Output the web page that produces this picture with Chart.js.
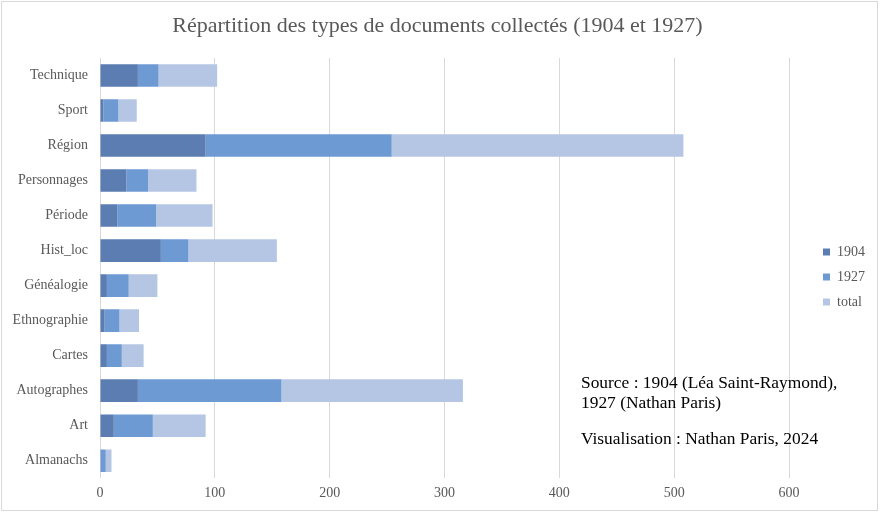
<!DOCTYPE html>
<html>
<head>
<meta charset="utf-8">
<script src="https://cdn.jsdelivr.net/npm/chart.js@4"></script>
<style>
  html, body { margin: 0; padding: 0; background: #fff; }
  #wrap { position: relative; width: 880px; height: 513px; }
  #frame { position: absolute; left: 1px; top: 1px; width: 877px; height: 510px; box-sizing: border-box; border: 1px solid #d9d9d9; pointer-events: none; }
  .note { position: absolute; left: 581px; font-family: "Liberation Serif", "Times New Roman", serif; font-size: 17.4px; line-height: 20px; color: #000; white-space: nowrap; }
</style>
</head>
<body>
<div id="wrap">
  <canvas id="c" width="880" height="513"></canvas>
  <div id="frame"></div>
  <div class="note" style="top:372px;">Source : 1904 (Léa Saint-Raymond),<br>1927 (Nathan Paris)</div>
  <div class="note" style="top:428px;">Visualisation : Nathan Paris, 2024</div>
</div>
<script>
const categories = ['Technique','Sport','Région','Personnages','Période','Hist_loc','Généalogie','Ethnographie','Cartes','Autographes','Art','Almanachs'];
const values1904 = [33, 3, 92, 23, 15, 53, 6, 4, 6, 33, 12, 0];
const values1927 = [18, 13, 162, 19, 34, 24, 19, 13, 13, 125, 34, 5];
const valuesTotal = [51, 16, 254, 42, 49, 77, 25, 17, 19, 158, 46, 5];
const seriesNames = ['1904', '1927', 'total'];
const xTicks = [0, 100, 200, 300, 400, 500, 600];

const serif = '"Liberation Serif", "Times New Roman", serif';
const colors = ['#5b7db2', '#6e9ad4', '#b4c6e4'];
const seriesValues = [values1904, values1927, valuesTotal];

new Chart(document.getElementById('c'), {
  type: 'bar',
  data: {
    labels: categories,
    datasets: seriesNames.map((n, i) => ({
      label: n,
      data: seriesValues[i],
      backgroundColor: colors[i],
      borderWidth: 0,
      barPercentage: 0.645,
      categoryPercentage: 1
    }))
  },
  options: {
    indexAxis: 'y',
    responsive: false,
    animation: false,
    devicePixelRatio: 1,
    layout: { padding: { left: 0, right: 5, top: 0, bottom: 4 } },
    plugins: {
      title: {
        display: true,
        text: 'Répartition des types de documents collectés (1904 et 1927)',
        color: '#595959',
        font: { family: serif, size: 22, weight: 'normal', lineHeight: 1.2 },
        padding: { top: 13, bottom: 18.6 }
      },
      legend: {
        position: 'right',
        align: 'center',
        title: { display: true, text: ' ', font: { size: 10, lineHeight: 1 }, padding: { top: 0, bottom: 35 } },
        labels: {
          boxWidth: 7, boxHeight: 7, padding: 11,
          color: '#595959',
          font: { family: serif, size: 14 }
        }
      },
      tooltip: { enabled: false }
    },
    scales: {
      x: {
        stacked: true,
        min: 0,
        max: 620,
        afterBuildTicks: (s) => { s.ticks = xTicks.concat([620]).map(v => ({ value: v })); },
        ticks: {
          autoSkip: false,
          maxRotation: 0,
          padding: 7,
          color: '#595959',
          font: { family: serif, size: 14 },
          callback: (v) => (xTicks.includes(v) ? String(v) : '')
        },
        grid: {
          drawTicks: false,
          color: (ctx) => (ctx.tick && xTicks.includes(ctx.tick.value) ? '#d9d9d9' : 'rgba(0,0,0,0)')
        },
        border: { display: false }
      },
      y: {
        stacked: true,
        afterFit: (s) => { s.width = 100; },
        ticks: {
          padding: 12,
          color: '#595959',
          font: { family: serif, size: 14 }
        },
        grid: { display: false, drawTicks: false },
        border: { display: false }
      }
    }
  }
});
</script>
</body>
</html>
